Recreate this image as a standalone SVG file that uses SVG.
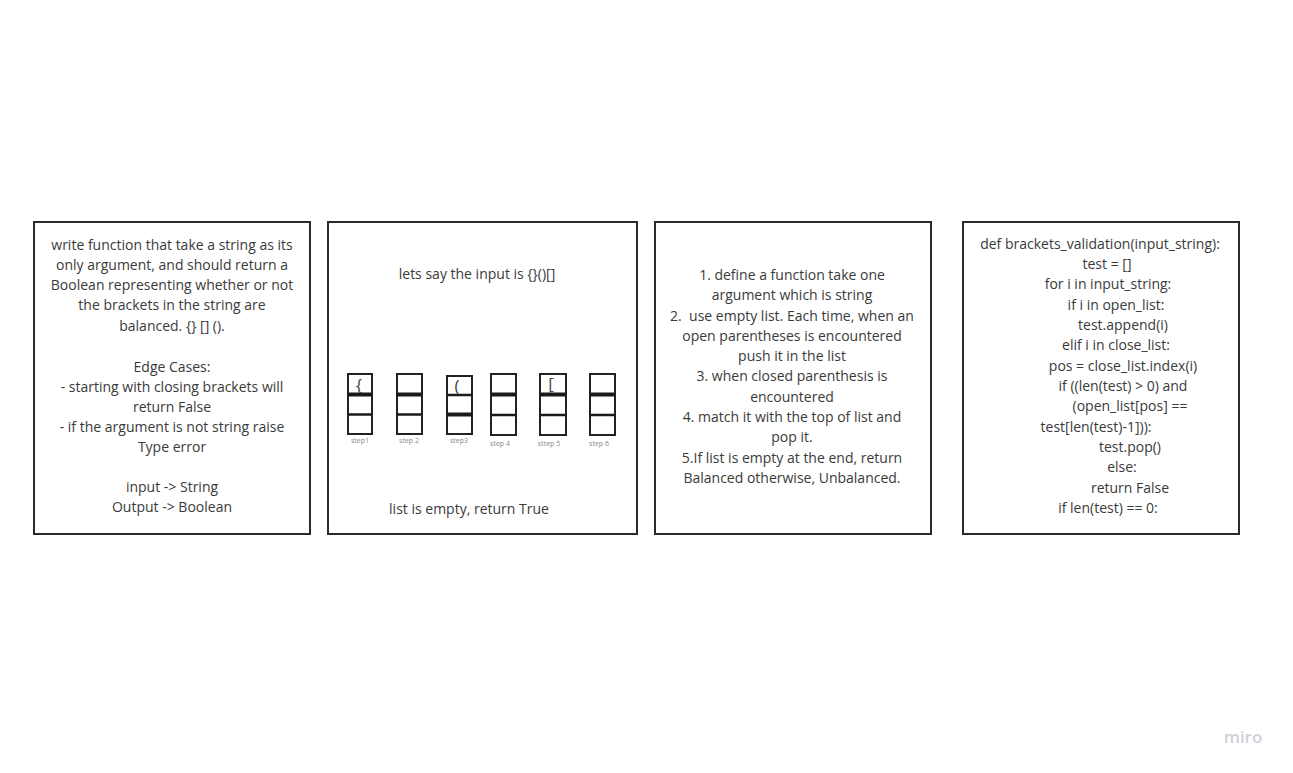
<svg xmlns="http://www.w3.org/2000/svg" width="1293" height="773" viewBox="0 0 1293 773">
<style>
.card{fill:#fff;stroke:#2b2b2b;stroke-width:2}
.t{font-family:"Open Sans","Liberation Sans",sans-serif;font-size:14px;fill:#3a3a3a;text-anchor:middle}
.cell{fill:#fff;stroke:#222;stroke-width:2}
.div{stroke:#1a1a1a}
.lbl{font-family:"Open Sans","Liberation Sans",sans-serif;font-size:7px;fill:#8a8a8a;text-anchor:middle}
.br{font-family:"Open Sans","Liberation Sans",sans-serif;font-size:17px;fill:#444;text-anchor:middle}
</style>
<rect width="1293" height="773" fill="#fff"/>
<g id="node1">
<rect class="card" x="34" y="222" width="276" height="312"/>
<text class="t" x="172" y="250">write function that take a string as its</text>
<text class="t" x="172" y="270">only argument, and should return a</text>
<text class="t" x="172" y="290">Boolean representing whether or not</text>
<text class="t" x="172" y="310">the brackets in the string are</text>
<text class="t" x="172" y="331">balanced. {} [] ().</text>
<text class="t" x="172" y="372">Edge Cases:</text>
<text class="t" x="172" y="392">- starting with closing brackets will</text>
<text class="t" x="172" y="412">return False</text>
<text class="t" x="172" y="432">- if the argument is not string raise</text>
<text class="t" x="172" y="452">Type error</text>
<text class="t" x="172" y="492">input -&gt; String</text>
<text class="t" x="172" y="512">Output -&gt; Boolean</text>
</g>
<g id="node2">
<rect class="card" x="328" y="222" width="309" height="312"/>
<text class="t" x="477" y="279">lets say the input is {}()[]</text>
<text class="t" x="469" y="514">list is empty, return True</text>
<g id="stack1">
<rect class="cell" x="348" y="374" width="24" height="60"/>
<line class="div" x1="348" y1="394.5" x2="372" y2="394.5" stroke-width="4"/>
<line class="div" x1="348" y1="414.5" x2="372" y2="414.5" stroke-width="2.5"/>
<text class="br" x="359" y="391">{</text>
<text class="lbl" x="360" y="443">step1</text>
</g>
<g id="stack2">
<rect class="cell" x="397" y="374" width="25" height="60"/>
<line class="div" x1="397" y1="394.5" x2="422" y2="394.5" stroke-width="4"/>
<line class="div" x1="397" y1="414.5" x2="422" y2="414.5" stroke-width="2.5"/>
<text class="lbl" x="409" y="443">step 2</text>
</g>
<g id="stack3">
<rect class="cell" x="447" y="376" width="25" height="58"/>
<line class="div" x1="447" y1="395" x2="472" y2="395" stroke-width="2.5"/>
<line class="div" x1="447" y1="414.5" x2="472" y2="414.5" stroke-width="4"/>
<text class="br" x="457" y="392">(</text>
<text class="lbl" x="459" y="443">step3</text>
</g>
<g id="stack4">
<rect class="cell" x="491" y="374" width="25" height="61"/>
<line class="div" x1="491" y1="394.5" x2="516" y2="394.5" stroke-width="4"/>
<line class="div" x1="491" y1="415" x2="516" y2="415" stroke-width="2.5"/>
<text class="lbl" x="500" y="446">step 4</text>
</g>
<g id="stack5">
<rect class="cell" x="540" y="374" width="26" height="61"/>
<line class="div" x1="540" y1="394.5" x2="566" y2="394.5" stroke-width="4"/>
<line class="div" x1="540" y1="415" x2="566" y2="415" stroke-width="2.5"/>
<text class="br" x="551" y="390">[</text>
<text class="lbl" x="549" y="446">sttep 5</text>
</g>
<g id="stack6">
<rect class="cell" x="590" y="374" width="25" height="61"/>
<line class="div" x1="590" y1="394.5" x2="615" y2="394.5" stroke-width="4"/>
<line class="div" x1="590" y1="415" x2="615" y2="415" stroke-width="2.5"/>
<text class="lbl" x="599" y="446">step 6</text>
</g>
</g>
<g id="node3">
<rect class="card" x="655" y="222" width="276" height="312"/>
<text class="t" x="792" y="280">1. define a function take one</text>
<text class="t" x="792" y="300">argument which is string</text>
<text class="t" x="792" y="321" xml:space="preserve">2.  use empty list. Each time, when an</text>
<text class="t" x="792" y="341">open parentheses is encountered</text>
<text class="t" x="792" y="361">push it in the list</text>
<text class="t" x="792" y="381">3. when closed parenthesis is</text>
<text class="t" x="792" y="402">encountered</text>
<text class="t" x="792" y="422">4. match it with the top of list and</text>
<text class="t" x="792" y="442">pop it.</text>
<text class="t" x="792" y="463">5.If list is empty at the end, return</text>
<text class="t" x="792" y="483">Balanced otherwise, Unbalanced.</text>
</g>
<g id="node4">
<rect class="card" x="963" y="222" width="276" height="312"/>
<text class="t" x="1100" y="249">def brackets_validation(input_string):</text>
<text class="t" x="1107" y="269">test = []</text>
<text class="t" x="1108" y="289">for i in input_string:</text>
<text class="t" x="1116" y="310">if i in open_list:</text>
<text class="t" x="1123" y="330">test.append(i)</text>
<text class="t" x="1116" y="350">elif i in close_list:</text>
<text class="t" x="1123" y="371">pos = close_list.index(i)</text>
<text class="t" x="1123" y="391">if ((len(test) &gt; 0) and</text>
<text class="t" x="1130" y="411">(open_list[pos] ==</text>
<text class="t" x="1096" y="432">test[len(test)-1])):</text>
<text class="t" x="1130" y="452">test.pop()</text>
<text class="t" x="1122" y="472">else:</text>
<text class="t" x="1130" y="493">return False</text>
<text class="t" x="1108" y="513">if len(test) == 0:</text>
</g>
<g id="connectors"></g>
<text x="1243" y="743" font-family="'Open Sans','Liberation Sans',sans-serif" font-size="17" font-weight="600" fill="#d0d0d8" text-anchor="middle">miro</text>
</svg>
